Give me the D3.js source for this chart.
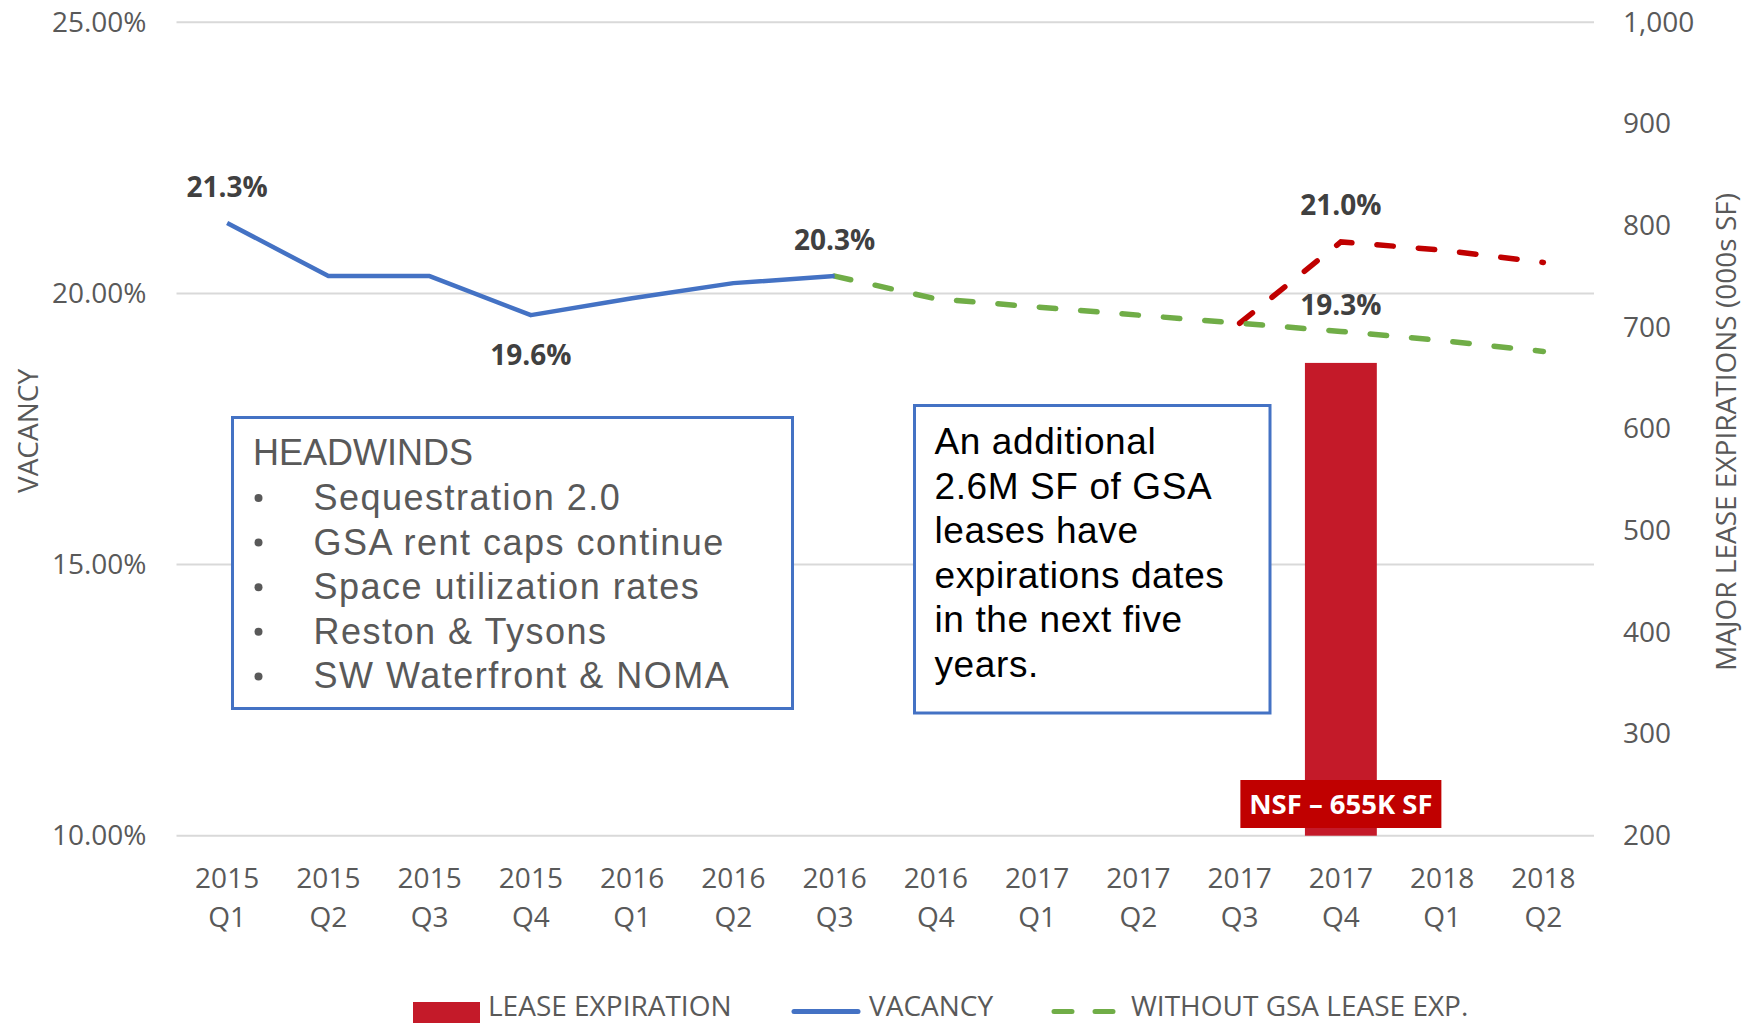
<!DOCTYPE html>
<html>
<head>
<meta charset="utf-8">
<script src="https://cdn.jsdelivr.net/npm/d3@7"></script>
<style>
  body { margin: 0; background: #fff; }
  svg { display: block; font-family: "Open Sans", sans-serif; }
</style>
</head>
<body>
<svg id="chart" width="1752" height="1023"></svg>
<script>
// quarters on the x axis, two lines each
const quarters = ['2015 Q1', '2015 Q2', '2015 Q3', '2015 Q4', '2016 Q1', '2016 Q2', '2016 Q3',
  '2016 Q4', '2017 Q1', '2017 Q2', '2017 Q3', '2017 Q4', '2018 Q1', '2018 Q2'];

// vacancy %, actuals
const vacancy = [21.3, 20.32, 20.32, 19.6, 19.91, 20.19, 20.32, null, null, null, null, null, null, null];
// projected vacancy without GSA lease expirations
const withoutGsa = [null, null, null, null, null, null, 20.32, 19.9, 19.75, 19.6, 19.45, 19.3, 19.13, 18.93];
// projected vacancy with GSA lease expirations
const withGsa = [null, null, null, null, null, null, null, null, null, null, 19.45, 20.95, 20.8, 20.57];
// major lease expirations (000s SF)
const leaseExp = [null, null, null, null, null, null, null, null, null, null, null, 665, null, null];

const leftTicks = [10, 15, 20, 25];
const rightTicks = [200, 300, 400, 500, 600, 700, 800, 900, 1000];

// labelled points: [series, index, text, dy]
const pointLabels = [
  [vacancy, 0, '21.3%', -36],
  [vacancy, 3, '19.6%', 40],
  [vacancy, 6, '20.3%', -36],
  [withGsa, 11, '21.0%', -37],
  [withoutGsa, 11, '19.3%', -26]
];

const headwinds = ['Sequestration 2.0', 'GSA rent caps continue', 'Space utilization rates',
  'Reston & Tysons', 'SW Waterfront & NOMA'];
const gsaNote = ['An additional', '2.6M SF of GSA', 'leases have', 'expirations dates',
  'in the next five', 'years.'];

const grey = '#595959';
const svg = d3.select('#chart');

const x = d3.scaleBand().domain(quarters).range([176.5, 1594])
  .paddingInner(0.29).paddingOuter(0.145);
const cx = d => x(d) + x.bandwidth() / 2;
const yL = d3.scaleLinear().domain([10, 25]).range([835.7, 22.3]);
const yR = d3.scaleLinear().domain([200, 1000]).range([835.7, 22.3]);

// gridlines
svg.append('g').selectAll('line').data(leftTicks).join('line')
  .attr('x1', 176.5).attr('x2', 1594)
  .attr('y1', d => yL(d)).attr('y2', d => yL(d))
  .attr('stroke', '#d9d9d9').attr('stroke-width', 2);

// left axis
const gl = svg.append('g').attr('transform', 'translate(176.5,0)')
  .call(d3.axisLeft(yL).tickValues(leftTicks).tickSize(0).tickPadding(30)
    .tickFormat(d => d.toFixed(2) + '%'));
gl.select('.domain').remove();
gl.selectAll('text').attr('font-size', 28).attr('fill', grey).attr('font-family', 'Open Sans');

// right axis
const gr = svg.append('g').attr('transform', 'translate(1594,0)')
  .call(d3.axisRight(yR).tickValues(rightTicks).tickSize(0).tickPadding(29)
    .tickFormat(d3.format(',')));
gr.select('.domain').remove();
gr.selectAll('text').attr('font-size', 28).attr('fill', grey).attr('font-family', 'Open Sans');

// bottom axis, two-line labels
const gb = svg.append('g').attr('transform', 'translate(0,835.7)')
  .call(d3.axisBottom(x).tickSize(0).tickFormat(''));
gb.select('.domain').remove();
gb.selectAll('.tick').each(function(d) {
  const parts = d.split(' ');
  const t = d3.select(this).append('text')
    .attr('fill', grey).attr('font-size', 28).attr('font-family', 'Open Sans')
    .attr('text-anchor', 'middle');
  t.append('tspan').attr('x', 0).attr('y', 52).text(parts[0]);
  t.append('tspan').attr('x', 0).attr('y', 91).text(parts[1]);
});

// axis titles
svg.append('text').attr('transform', 'translate(27,431) rotate(-90)')
  .attr('text-anchor', 'middle').attr('dominant-baseline', 'central')
  .attr('font-size', 28).attr('fill', grey).text('VACANCY');
svg.append('text').attr('transform', 'translate(1725,432) rotate(-90)')
  .attr('text-anchor', 'middle').attr('dominant-baseline', 'central')
  .attr('font-size', 28).attr('fill', grey).text('MAJOR LEASE EXPIRATIONS (000s SF)');

// lease expiration bar
const barW = x.bandwidth();
const bars = quarters.map((q, i) => ({ q, v: leaseExp[i] })).filter(d => d.v != null);
svg.append('g').selectAll('rect').data(bars).join('rect')
  .attr('x', d => x(d.q)).attr('width', barW)
  .attr('y', d => yR(d.v)).attr('height', d => yR(200) - yR(d.v))
  .attr('fill', '#c41a29');

// label box on the bar
bars.forEach(d => {
  const g = svg.append('g').attr('transform', `translate(${cx(d.q)},${yR(200) - 31.7})`);
  g.append('rect').attr('x', -100.5).attr('y', -24).attr('width', 201).attr('height', 48)
    .attr('fill', '#c00000');
  g.append('text').attr('text-anchor', 'middle').attr('dy', '0.36em')
    .attr('font-size', 27.5).attr('font-weight', 'bold').attr('fill', '#fff')
    .text('NSF \u2013 655K SF');
});

// lines
const line = (arr) => d3.line()
  .defined((d, i) => arr[i] != null)
  .x((d, i) => cx(quarters[i]))
  .y((d, i) => yL(arr[i]))(arr);

svg.append('path').attr('d', line(withGsa)).attr('fill', 'none')
  .attr('stroke', '#c00000').attr('stroke-width', 5.5)
  .attr('stroke-dasharray', '16.5,25').attr('stroke-linecap', 'round');
svg.append('path').attr('d', line(withoutGsa)).attr('fill', 'none')
  .attr('stroke', '#70ad47').attr('stroke-width', 5.5)
  .attr('stroke-dasharray', '16.5,25').attr('stroke-linecap', 'round');
svg.append('path').attr('d', line(vacancy)).attr('fill', 'none')
  .attr('stroke', '#4472c4').attr('stroke-width', 4.5)
  .attr('stroke-linejoin', 'round');

// data labels
svg.append('g').selectAll('text').data(pointLabels).join('text')
  .attr('x', d => cx(quarters[d[1]]))
  .attr('y', d => yL(d[0][d[1]]) + d[3])
  .attr('dy', '0.36em').attr('text-anchor', 'middle')
  .attr('font-size', 28).attr('font-weight', 'bold').attr('fill', '#404040')
  .text(d => d[2]);

// HEADWINDS box
const hw = svg.append('g').attr('font-family', '"Liberation Sans", Arial, sans-serif');
hw.append('rect').attr('x', 232.5).attr('y', 417.5).attr('width', 560).attr('height', 291)
  .attr('fill', '#fff').attr('stroke', '#4472c4').attr('stroke-width', 3);
hw.append('text').attr('x', 253).attr('y', 465).attr('font-size', 36).attr('fill', grey)
  .text('HEADWINDS');
hw.selectAll('text.item').data(headwinds).join('text').attr('class', 'item')
  .attr('x', 313.5).attr('y', (d, i) => 510 + i * 44.6)
  .attr('font-size', 36).attr('letter-spacing', 1.5).attr('fill', grey).text(d => d);
hw.selectAll('circle').data(headwinds).join('circle')
  .attr('cx', 258.5).attr('cy', (d, i) => 510 + i * 44.6 - 12)
  .attr('r', 4).attr('fill', grey);

// GSA note box
const nb = svg.append('g').attr('font-family', '"Liberation Sans", Arial, sans-serif');
nb.append('rect').attr('x', 914.5).attr('y', 405.5).attr('width', 355.5).attr('height', 307.5)
  .attr('fill', '#fff').attr('stroke', '#4472c4').attr('stroke-width', 3);
nb.selectAll('text').data(gsaNote).join('text')
  .attr('x', 934.5).attr('y', (d, i) => 454.3 + i * 44.5)
  .attr('font-size', 37).attr('letter-spacing', 0.6).attr('fill', '#000').text(d => d);

// legend
const lg = svg.append('g').attr('font-size', 28).attr('fill', grey);
lg.append('rect').attr('x', 413).attr('y', 1002).attr('width', 67).attr('height', 21).attr('fill', '#c41a29');
lg.append('text').attr('x', 488).attr('y', 1016).attr('fill', grey).text('LEASE EXPIRATION');
lg.append('line').attr('x1', 794).attr('x2', 858).attr('y1', 1011.5).attr('y2', 1011.5)
  .attr('stroke', '#4472c4').attr('stroke-width', 5).attr('stroke-linecap', 'round');
lg.append('text').attr('x', 869).attr('y', 1016).attr('fill', grey).text('VACANCY');
lg.append('line').attr('x1', 1054).attr('x2', 1115).attr('y1', 1011.5).attr('y2', 1011.5)
  .attr('stroke', '#70ad47').attr('stroke-width', 5).attr('stroke-linecap', 'round')
  .attr('stroke-dasharray', '18,23');
lg.append('text').attr('x', 1131).attr('y', 1016).attr('fill', grey).text('WITHOUT GSA LEASE EXP.');
</script>
</body>
</html>
